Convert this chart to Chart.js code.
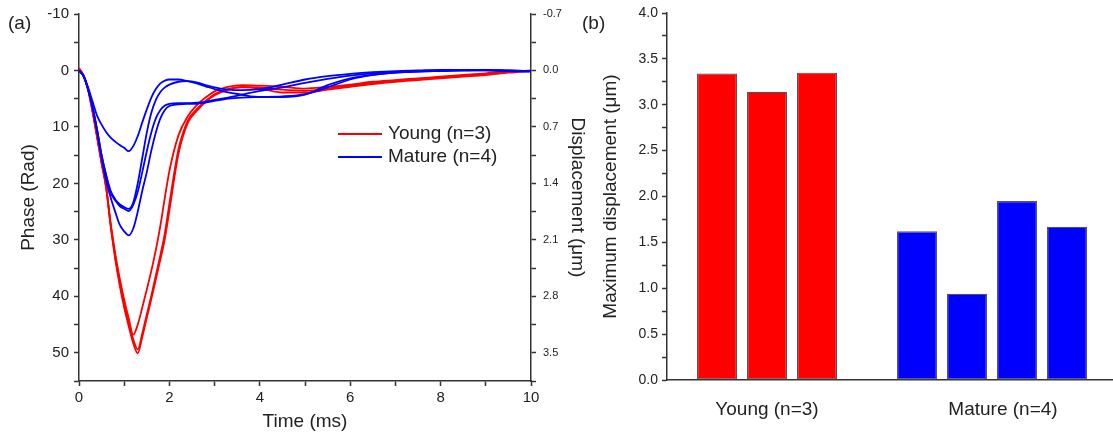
<!DOCTYPE html>
<html>
<head>
<meta charset="utf-8">
<script src="https://cdn.jsdelivr.net/npm/chart.js@4.4.0/dist/chart.umd.min.js"></script>
<style>
    html, body { margin: 0; padding: 0; background: #fff; }
    #wrap { position: relative; width: 1113px; height: 437px; }
    .panel { position: absolute; top: 0; height: 437px; }
    #panelA { left: 0; width: 590px; }
    #panelB { left: 590px; width: 523px; }
    .tag { position: absolute; top: 12px; font: 19px 'Liberation Sans', Arial, sans-serif; color: #222; line-height: 22px; }
</style>
</head>
<body>
<div id="wrap">
    <div class="panel" id="panelA"><canvas id="phaseChart"></canvas></div>
    <div class="panel" id="panelB"><canvas id="barChart"></canvas></div>
    <span class="tag" style="left:8px">(a)</span>
    <span class="tag" style="left:582px">(b)</span>
</div>
<script>
// --- DATA ---
const groups = ['Young (n=3)', 'Mature (n=4)'];
const groupColors = ['#ff0000', '#0000ff'];

// time axis (ms), shared by every trace
const time = [0, 0.1, 0.2, 0.3, 0.4, 0.5, 0.6, 0.7, 0.8, 0.9, 1.0, 1.1, 1.2, 1.3, 1.4, 1.5, 1.6, 1.7, 1.8, 1.9, 2.0,
    2.2, 2.4, 2.6, 2.8, 3.0, 3.3, 3.6, 4.0, 4.5, 5.0, 5.5, 6.0, 6.5, 7.0, 7.5, 8.0, 8.5, 9.0, 9.5, 10];

// phase traces (rad)
const young1 = [-0.4, 0.8, 3.2, 7.0, 11.5, 16.2, 20.5, 27.5, 33.3, 38.0, 42.0, 45.3, 48.3, 50.1, 47.2, 43.8, 40.5, 37.0, 33.5, 29.8, 24.8,
    14.8, 9.4, 7.2, 5.6, 4.4, 3.4, 3.0, 3.2, 3.9, 3.9, 3.4, 2.9, 2.4, 2.0, 1.7, 1.4, 1.1, 0.8, 0.4, 0.1];
const young2 = [-0.3, 0.9, 3.4, 7.3, 11.8, 16.4, 20.7, 27.4, 33.0, 37.6, 41.5, 44.7, 47.6, 49.4, 46.6, 43.2, 39.9, 36.3, 32.7, 28.8, 23.6,
    14.0, 9.0, 6.9, 5.4, 4.2, 3.3, 2.9, 3.0, 3.4, 3.6, 3.2, 2.7, 2.2, 1.8, 1.5, 1.2, 0.9, 0.6, 0.3, 0.1];
const young3 = [-0.3, 0.9, 3.4, 7.3, 11.8, 16.4, 20.7, 27.0, 32.3, 36.8, 40.6, 43.9, 46.8, 45.0, 42.0, 38.8, 35.5, 31.8, 27.5, 22.5, 17.8,
    11.5, 8.2, 6.2, 4.8, 3.7, 2.9, 2.6, 2.7, 2.9, 3.2, 2.9, 2.5, 2.0, 1.7, 1.4, 1.1, 0.8, 0.5, 0.2, 0.0];

const mature1 = [0.0, 1.0, 3.0, 5.5, 8.0, 9.6, 10.9, 11.9, 12.6, 13.2, 13.7, 14.3, 13.4, 11.6, 9.2, 6.9, 4.8, 3.3, 2.3, 1.8, 1.6,
    1.6, 1.9, 2.3, 2.8, 3.3, 3.9, 4.3, 4.7, 4.7, 4.3, 2.6, 1.4, 0.8, 0.4, 0.2, 0.1, 0.0, 0.0, 0.1, 0.1];
const mature2 = [0.0, 1.0, 3.3, 6.5, 10.5, 15.0, 18.5, 21.3, 22.8, 23.7, 24.2, 24.5, 23.4, 20.0, 15.5, 11.0, 7.5, 5.2, 3.8, 3.0, 2.5,
    2.0, 1.9, 2.1, 2.6, 3.0, 3.4, 3.5, 3.3, 2.5, 1.6, 1.0, 0.6, 0.3, 0.1, 0.0, -0.1, -0.1, -0.1, 0.0, 0.1];
const mature3 = [0.0, 1.0, 3.3, 6.5, 10.5, 15.0, 18.6, 21.6, 23.0, 24.0, 24.5, 24.9, 23.8, 21.5, 18.0, 14.3, 11.0, 8.5, 7.0, 6.2, 5.9,
    5.8, 5.8, 5.7, 5.5, 5.2, 4.8, 4.3, 3.6, 3.0, 2.2, 1.5, 0.9, 0.5, 0.3, 0.1, 0.0, 0.0, -0.1, 0.0, 0.1];
const mature4 = [0.0, 1.0, 3.3, 6.6, 10.8, 15.5, 19.5, 22.5, 25.0, 27.3, 28.5, 29.2, 28.0, 25.0, 21.3, 18.0, 14.2, 11.0, 8.5, 7.0, 6.3,
    6.0, 5.9, 5.9, 5.7, 5.4, 5.0, 4.8, 4.7, 4.6, 4.2, 3.0, 1.6, 0.8, 0.4, 0.2, 0.1, 0.0, 0.0, 0.1, 0.2];

const youngRuns = [young1, young2, young3];
const matureRuns = [mature1, mature2, mature3, mature4];

// right axis of (a): displacement labels (um)
const dispLabels = [-0.7, 0.0, 0.7, 1.4, 2.1, 2.8, 3.5];

// bar chart (b): maximum displacement (um)
const youngMax = [3.34, 3.14, 3.35];
const matureMax = [1.62, 0.94, 1.95, 1.67];
const youngPos = [1, 2, 3];
const maturePos = [5, 6, 7, 8];
const groupTickPos = [2, 6.72];

// --- KONFIGURASI UMUM ---
Chart.defaults.font.family = "'Liberation Sans', Arial, sans-serif";
Chart.defaults.color = '#222';
Chart.defaults.animation = false;

const axisColor = '#333';

// legend drawn inside the plot of (a)
const legendInside = {
    id: 'legendInside',
    afterDraw(chart) {
        const { ctx, chartArea } = chart;
        ctx.save();
        ctx.font = "19px 'Liberation Sans', Arial, sans-serif";
        ctx.textBaseline = 'middle';
        groups.forEach((label, i) => {
            const x = chartArea.left + 259;
            const y = chartArea.top + 120 + i * 23;
            ctx.strokeStyle = groupColors[i];
            ctx.lineWidth = 1.8;
            ctx.beginPath();
            ctx.moveTo(x, y);
            ctx.lineTo(x + 44, y);
            ctx.stroke();
            ctx.fillStyle = '#222';
            ctx.fillText(label, x + 50, y);
        });
        ctx.restore();
    }
};

function buatDataset(run, color, order) {
    return {
        data: run.map((v, j) => ({ x: time[j], y: v })),
        borderColor: color,
        borderWidth: 1.8,
        pointRadius: 0,
        cubicInterpolationMode: 'monotone',
        fill: false,
        order: order
    };
}

// --- GRAFIK (a) ---
function grafikFase() {
    const datasets = [];
    youngRuns.forEach(run => datasets.push(buatDataset(run, groupColors[0], 2)));
    matureRuns.forEach(run => datasets.push(buatDataset(run, groupColors[1], 1)));

    new Chart(document.getElementById('phaseChart'), {
        type: 'line',
        data: { datasets },
        options: {
            responsive: true,
            maintainAspectRatio: false,
            layout: { padding: { top: 12, left: 0, right: 0, bottom: 0 } },
            plugins: { legend: { display: false }, tooltip: { enabled: false } },
            scales: {
                x: {
                    type: 'linear', min: 0, max: 10,
                    ticks: {
                        stepSize: 1, autoSkip: false, maxRotation: 0, padding: 3,
                        font: { size: 15 },
                        callback: v => (v % 2 === 0 ? v : '')
                    },
                    grid: { drawOnChartArea: false, tickLength: 5, tickColor: axisColor, tickWidth: 1.5 },
                    border: { color: axisColor, width: 1.5 },
                    title: { display: true, text: 'Time (ms)', font: { size: 19 }, padding: { top: 0, bottom: 4 } },
                    afterFit: s => { s.height = 56; }
                },
                y: {
                    position: 'left', reverse: true, min: -10, max: 55,
                    ticks: {
                        stepSize: 5, autoSkip: false, padding: 5,
                        font: { size: 15 },
                        callback: v => (v % 10 === 0 ? v : '')
                    },
                    grid: { drawOnChartArea: false, tickLength: 5, tickColor: axisColor, tickWidth: 1.5 },
                    border: { color: axisColor, width: 1.5 },
                    title: { display: true, text: 'Phase (Rad)', font: { size: 19 }, padding: { top: 17, bottom: 0 } },
                    afterFit: s => { s.width = 79; }
                },
                y2: {
                    position: 'right', reverse: true, min: -0.7, max: 3.85,
                    afterBuildTicks: s => {
                        const t = [];
                        dispLabels.forEach(v => {
                            t.push({ value: v, isLabel: true });
                            if (v + 0.35 <= 3.85) t.push({ value: v + 0.35, isLabel: false });
                        });
                        s.ticks = t;
                    },
                    ticks: {
                        autoSkip: false, padding: 7,
                        font: { size: 11 },
                        callback: (v, i, t) => (t[i].isLabel ? v.toFixed(1) : '')
                    },
                    grid: { drawOnChartArea: false, tickLength: 5, tickColor: axisColor, tickWidth: 1.5 },
                    border: { color: axisColor, width: 1.5 },
                    title: { display: true, text: 'Displacement (\u03bcm)', font: { size: 19 }, padding: { top: 1, bottom: 0 } },
                    afterFit: s => { s.width = 59; }
                }
            }
        },
        plugins: [legendInside]
    });
}

// --- GRAFIK (b) ---
function grafikBatang() {
    const datasets = [
        {
            data: youngPos.map((p, i) => ({ x: p, y: youngMax[i] })),
            backgroundColor: groupColors[0]
        },
        {
            data: maturePos.map((p, i) => ({ x: p, y: matureMax[i] })),
            backgroundColor: groupColors[1]
        }
    ].map(d => Object.assign(d, {
        borderColor: '#555',
        borderWidth: 1.2,
        borderSkipped: false,
        grouped: false,
        categoryPercentage: 0.8,
        barPercentage: 1.0
    }));

    new Chart(document.getElementById('barChart'), {
        type: 'bar',
        data: { datasets },
        options: {
            responsive: true,
            maintainAspectRatio: false,
            layout: { padding: { top: 13, left: 0, right: 0, bottom: 0 } },
            plugins: { legend: { display: false }, tooltip: { enabled: false } },
            scales: {
                x: {
                    type: 'linear', min: 0, max: 8.92, offset: false,
                    afterBuildTicks: s => { s.ticks = groupTickPos.map(v => ({ value: v })); },
                    ticks: {
                        autoSkip: false, maxRotation: 0, padding: 10,
                        font: { size: 19 },
                        callback: (v, i) => groups[i]
                    },
                    grid: { display: false },
                    border: { display: true, color: axisColor, width: 1.5 },
                    afterFit: s => { s.height = 57; }
                },
                y: {
                    min: 0, max: 4,
                    ticks: {
                        stepSize: 0.25, autoSkip: false, padding: 4,
                        font: { size: 14 },
                        callback: v => (Math.round(v * 100) % 50 === 0 ? v.toFixed(1) : '')
                    },
                    grid: { drawOnChartArea: false, tickLength: 5, tickColor: axisColor, tickWidth: 1.5 },
                    border: { color: axisColor, width: 1.5 },
                    title: { display: true, text: 'Maximum displacement (\u03bcm)', font: { size: 19 }, padding: { top: 9, bottom: 0 } },
                    afterFit: s => { s.width = 77; }
                }
            }
        }
    });
}

grafikFase();
grafikBatang();
</script>
</body>
</html>
